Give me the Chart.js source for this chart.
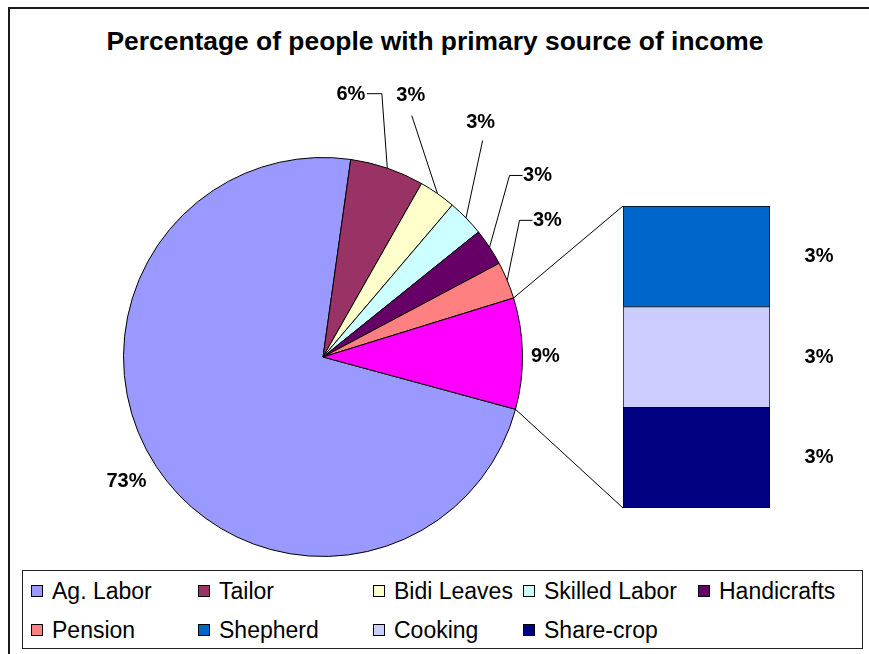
<!DOCTYPE html>
<html>
<head>
<meta charset="utf-8">
<script src="https://cdn.jsdelivr.net/npm/chart.js@4.4.1/dist/chart.umd.min.js"></script>
<style>
  html, body { margin:0; padding:0; background:#fff; }
  body { width:869px; height:654px; position:relative; overflow:hidden; font-family:"Liberation Sans", Arial, sans-serif; }
  #frame { position:absolute; left:8px; top:7px; width:900px; height:700px; border:2px solid #1a1a1a; box-sizing:border-box; }
  canvas { position:absolute; left:0; top:0; }
  #title { position:absolute; left:0; top:26px; width:870px; text-align:center; font-weight:bold; font-size:26.4px; line-height:30px; color:#000; }
  #legend { position:absolute; left:22px; top:570px; width:841px; height:79px; border:1px solid #222; box-sizing:border-box; background:#fff; }
  .item { position:absolute; height:30px; display:flex; align-items:center; font-size:23px; color:#000; white-space:nowrap; }
  .sw { width:12px; height:12px; border:1px solid #000; box-sizing:border-box; margin-right:9px; }
</style>
</head>
<body>
<div id="frame"></div>
<div id="title">Percentage of people with primary source of income</div>
<canvas id="pie" width="869" height="654"></canvas>
<canvas id="bar" width="869" height="654"></canvas>
<div id="legend"></div>
<script>
// ---- data ----
const categories = ['Ag. Labor', 'Tailor', 'Bidi Leaves', 'Skilled Labor', 'Handicrafts', 'Pension', 'Other'];
const shares = [73, 6, 3, 3, 3, 3, 9];
const otherCategories = ['Shepherd', 'Cooking', 'Share-crop'];
const otherShares = [3, 3, 3];
const legendNames = ['Ag. Labor', 'Tailor', 'Bidi Leaves', 'Skilled Labor', 'Handicrafts', 'Pension', 'Shepherd', 'Cooking', 'Share-crop'];

// ---- styles ----
const pieColors = ['#9999FF', '#993366', '#FFFFCC', '#CCFFFF', '#660066', '#FF8080', '#FF00FF'];
const otherColors = ['#0066CC', '#CCCCFF', '#000080'];
const colorByName = {};
categories.forEach((c, i) => colorByName[c] = pieColors[i]);
otherCategories.forEach((c, i) => colorByName[c] = otherColors[i]);
const FONT = '"Liberation Sans", Arial, sans-serif';

// label placement relative to pie centre, in units of radius
const labelSpots = [
  { lx: -0.985, ly: 0.625 },
  { lx: 0.14, ly: -1.315, leader: [[0.295, -1.32], [0.22, -1.32]] },
  { lx: 0.44, ly: -1.31, leader: [[0.445, -1.21]] },
  { lx: 0.79, ly: -1.175, leader: [[0.80, -1.085]] },
  { lx: 1.075, ly: -0.91, leader: [[0.935, -0.91], [1.0, -0.91]] },
  { lx: 1.125, ly: -0.685, leader: [[0.985, -0.685], [1.05, -0.685]] },
  { lx: 1.115, ly: -0.005 }
];

const pieLabelPlugin = {
  id: 'pieLabels',
  afterDatasetsDraw(chart) {
    const ctx = chart.ctx;
    const meta = chart.getDatasetMeta(0);
    ctx.save();
    ctx.font = 'bold 20px ' + FONT;
    ctx.fillStyle = '#000';
    ctx.strokeStyle = '#000';
    ctx.lineWidth = 1;
    ctx.textAlign = 'center';
    ctx.textBaseline = 'middle';
    meta.data.forEach((arc, i) => {
      const R = arc.outerRadius, cx = arc.x, cy = arc.y;
      const mid = (arc.startAngle + arc.endAngle) / 2;
      const spot = labelSpots[i];
      if (spot.leader) {
        ctx.beginPath();
        ctx.moveTo(cx + Math.cos(mid) * R, cy + Math.sin(mid) * R);
        spot.leader.forEach(p => ctx.lineTo(cx + p[0] * R, cy + p[1] * R));
        ctx.stroke();
      }
      ctx.fillText(shares[i] + '%', cx + spot.lx * R, cy + spot.ly * R);
    });
    ctx.restore();
  }
};

const pieChart = new Chart(document.getElementById('pie'), {
  type: 'pie',
  data: {
    labels: categories,
    datasets: [{ data: shares, backgroundColor: pieColors, borderColor: '#000', borderWidth: 1 }]
  },
  options: {
    responsive: false,
    animation: false,
    rotation: 105.2,
    layout: { padding: { left: 123, right: 346, top: 157, bottom: 97 } },
    plugins: { legend: { display: false }, tooltip: { enabled: false } }
  },
  plugins: [pieLabelPlugin]
});

const barExtrasPlugin = {
  id: 'barExtras',
  afterDatasetsDraw(chart) {
    const ctx = chart.ctx;
    ctx.save();
    ctx.font = 'bold 20px ' + FONT;
    ctx.fillStyle = '#000';
    ctx.textAlign = 'center';
    ctx.textBaseline = 'middle';
    let topEl = null, botEl = null;
    chart.data.datasets.forEach((ds, di) => {
      const el = chart.getDatasetMeta(di).data[0];
      const top = Math.min(el.y, el.base), bot = Math.max(el.y, el.base);
      ctx.fillText(ds.data[0] + '%', el.x + el.width / 2 + 49, (top + bot) / 2);
      if (!topEl || top < topEl.top) topEl = { el, top };
      if (!botEl || bot > botEl.bot) botEl = { el, bot };
    });
    // connector lines from the "Other" slice to the bar
    const arc = pieChart.getDatasetMeta(0).data[categories.indexOf('Other')];
    const R = arc.outerRadius;
    const p1 = [arc.x + Math.cos(arc.startAngle) * R, arc.y + Math.sin(arc.startAngle) * R];
    const p2 = [arc.x + Math.cos(arc.endAngle) * R, arc.y + Math.sin(arc.endAngle) * R];
    const left = topEl.el.x - topEl.el.width / 2;
    ctx.strokeStyle = '#000';
    ctx.lineWidth = 1;
    ctx.beginPath();
    ctx.moveTo(p1[0], p1[1]); ctx.lineTo(left, topEl.top);
    ctx.moveTo(p2[0], p2[1]); ctx.lineTo(left, botEl.bot);
    ctx.stroke();
    ctx.restore();
  }
};

const barOrder = otherCategories.map((c, i) => i).reverse(); // first dataset sits at the bottom
new Chart(document.getElementById('bar'), {
  type: 'bar',
  data: {
    labels: ['Other'],
    datasets: barOrder.map(i => ({
      label: otherCategories[i],
      data: [otherShares[i]],
      backgroundColor: otherColors[i],
      borderColor: '#000',
      borderWidth: 1,
      categoryPercentage: 1,
      barPercentage: 1
    }))
  },
  options: {
    responsive: false,
    animation: false,
    layout: { padding: { left: 623, right: 99, top: 206, bottom: 146 } },
    scales: {
      x: { display: false, stacked: true },
      y: { display: false, stacked: true, min: 0, max: 9 }
    },
    plugins: { legend: { display: false }, tooltip: { enabled: false } }
  },
  plugins: [barExtrasPlugin]
});

// legend (grid like the original)
const legendCols = [8, 175, 350, 500, 675];
const legendRows = [5, 44];
const legendEl = document.getElementById('legend');
legendNames.forEach((name, k) => {
  const d = document.createElement('div');
  d.className = 'item';
  d.style.left = legendCols[k % 5] + 'px';
  d.style.top = legendRows[Math.floor(k / 5)] + 'px';
  const sw = document.createElement('span');
  sw.className = 'sw';
  sw.style.background = colorByName[name];
  d.appendChild(sw);
  d.appendChild(document.createTextNode(name));
  legendEl.appendChild(d);
});
</script>
</body>
</html>
